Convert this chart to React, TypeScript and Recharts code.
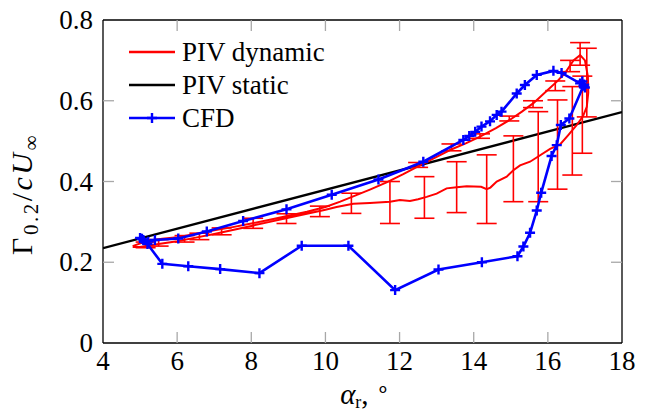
import React from "react";
import {
  ComposedChart,
  Line,
  Scatter,
  ErrorBar,
  XAxis,
  YAxis,
} from "recharts";

const fontStyle = { fontFamily: "Liberation Serif" };
const FS = 27;

// ---- tick labels ----
const xTicks = [4, 6, 8, 10, 12, 14, 16, 18];
const yTicks = [0, 0.2, 0.4, 0.6, 0.8];

// ---- series names ----
const seriesNames = ["PIV dynamic", "PIV static", "CFD"];

// ---- PIV static (linear) ----
const staticX = [4, 18];
const staticY = [0.235, 0.572];

// ---- PIV dynamic loop (upstroke then downstroke) ----
const dynX = [
  4.8, 5.2, 5.6, 6.0, 6.5, 7.0, 7.5, 8.0, 8.5, 9.0, 9.5, 10.0, 10.4, 10.75, 11.2,
  11.65, 12.1, 12.55, 13.0, 13.36, 13.8, 14.17, 14.6, 14.98, 15.3, 15.61, 16.01,
  16.25, 16.46, 16.69, 16.87, 17.0, 17.08,
  17.09, 17.05, 16.95, 16.78, 16.55, 16.33, 16.06, 15.74, 15.52, 15.25, 15.07,
  14.89, 14.62, 14.45, 14.35, 14.2, 13.81, 13.54, 13.27, 13.0, 12.73, 12.5, 12.28,
  12.01, 11.74, 11.2, 10.75, 10.3, 10.0, 9.5, 9.0, 8.5, 8.0, 7.5, 7.0, 6.5, 6.0,
  5.5, 5.0, 4.8,
];
const dynY = [
  0.24, 0.253, 0.258, 0.262, 0.27, 0.279, 0.287, 0.296, 0.305, 0.315, 0.325, 0.337,
  0.35, 0.363, 0.38, 0.398, 0.418, 0.44, 0.461, 0.478, 0.495, 0.511, 0.532, 0.553,
  0.573, 0.594, 0.628, 0.648, 0.668, 0.7, 0.713, 0.7, 0.66,
  0.62, 0.585, 0.562, 0.54, 0.515, 0.492, 0.481, 0.462, 0.449, 0.44, 0.428,
  0.412, 0.4, 0.385, 0.381, 0.387, 0.388, 0.386, 0.383, 0.37, 0.362, 0.356, 0.352,
  0.354, 0.35, 0.347, 0.345, 0.337, 0.33, 0.32, 0.31, 0.3, 0.29, 0.28, 0.27, 0.261,
  0.252, 0.245, 0.238, 0.238,
];

// ---- PIV dynamic error bars ----
const errX = [
  5.15, 5.5, 6.2, 6.6, 7.2, 8.05, 8.95, 9.85, 10.7, 11.74, 12.5, 12.67, 13.4, 13.54,
  14.17, 14.35, 14.96, 15.07, 15.6, 15.74, 16.2, 16.26, 16.6, 16.66, 16.87, 16.93,
  17.05,
];
const errLow = [
  0.236, 0.24, 0.25, 0.256, 0.268, 0.284, 0.296, 0.313, 0.321, 0.296, 0.435, 0.309,
  0.476, 0.323, 0.507, 0.296, 0.55, 0.35, 0.583, 0.35, 0.625, 0.381, 0.672, 0.416,
  0.688, 0.47, 0.56,
];
const errHigh = [
  0.25, 0.256, 0.266, 0.272, 0.285, 0.309, 0.32, 0.339, 0.371, 0.4, 0.447, 0.412,
  0.493, 0.449, 0.518, 0.466, 0.562, 0.513, 0.6, 0.573, 0.649, 0.602, 0.7, 0.635,
  0.744, 0.661, 0.73,
];

// ---- CFD loop ----
const cfdX = [
  5.0, 5.09, 5.22, 5.4, 6.03, 6.8, 7.78, 8.95, 10.17, 11.43, 12.64, 13.72, 13.88,
  14.04, 14.21, 14.44, 14.62, 14.75, 15.16, 15.38, 15.7, 16.15, 16.37, 16.87, 16.98,
  16.93, 17.0, 16.96,
  16.58, 16.35, 16.24, 16.1, 15.82, 15.7, 15.52, 15.34, 15.18, 14.22, 13.05, 11.88,
  10.62, 9.36, 8.22, 7.16, 6.3, 5.6, 5.2, 5.05,
];
const cfdY = [
  0.26, 0.255, 0.251, 0.255, 0.259, 0.276, 0.302, 0.331, 0.367, 0.405, 0.449, 0.503,
  0.513, 0.523, 0.536, 0.549, 0.565, 0.573, 0.618, 0.639, 0.664, 0.674, 0.669, 0.643,
  0.64, 0.648, 0.633, 0.637,
  0.556, 0.54, 0.49, 0.463, 0.372, 0.328, 0.273, 0.239, 0.215, 0.2, 0.182, 0.131,
  0.241, 0.241, 0.173, 0.183, 0.19, 0.196, 0.245, 0.258,
];

const staticData = staticX.map((x, i) => ({ x, y: staticY[i] }));
const dynData = dynX.map((x, i) => ({ x, y: dynY[i] }));
const errData = errX.map((x, i) => ({
  x,
  y: (errLow[i] + errHigh[i]) / 2,
  e: (errHigh[i] - errLow[i]) / 2,
}));
const cfdData = cfdX.map((x, i) => ({ x, y: cfdY[i] }));

const SHIFT = 8; // chart svg starts at the very top of the page
const W = 640;
const H = 406 + SHIFT;
const TICK_LEN = 11;
const TICK_COLOR = "#a8a8a8";

function BottomTick(props: any) {
  const { x, y, payload } = props;
  const v = payload.value;
  const edge = v === xTicks[0] || v === xTicks[xTicks.length - 1];
  return (
    <g>
      {!edge && (
        <line x1={x} x2={x} y1={y} y2={y - TICK_LEN} stroke={TICK_COLOR} strokeWidth={1.3} />
      )}
      <text x={x} y={y + 27} textAnchor="middle" style={fontStyle} fontSize={FS} fill="#000">
        {v}
      </text>
    </g>
  );
}

function TopTick(props: any) {
  const { x, y, payload } = props;
  const v = payload.value;
  const edge = v === xTicks[0] || v === xTicks[xTicks.length - 1];
  if (edge) return <g />;
  return <line x1={x} x2={x} y1={y} y2={y + TICK_LEN} stroke={TICK_COLOR} strokeWidth={1.3} />;
}

function LeftTick(props: any) {
  const { x, y, payload } = props;
  const v = payload.value;
  const edge = v === yTicks[0] || v === yTicks[yTicks.length - 1];
  return (
    <g>
      {!edge && (
        <line x1={x} x2={x + TICK_LEN} y1={y} y2={y} stroke={TICK_COLOR} strokeWidth={1.3} />
      )}
      <text
        x={x - 10}
        y={y}
        dy="0.34em"
        textAnchor="end"
        style={fontStyle}
        fontSize={FS}
        fill="#000"
      >
        {v === 0 ? "0" : v.toFixed(1)}
      </text>
    </g>
  );
}

function RightTick(props: any) {
  const { x, y, payload } = props;
  const v = payload.value;
  const edge = v === yTicks[0] || v === yTicks[yTicks.length - 1];
  if (edge) return <g />;
  return <line x1={x} x2={x - TICK_LEN} y1={y} y2={y} stroke={TICK_COLOR} strokeWidth={1.3} />;
}

function PlusDot(props: any) {
  const { cx, cy, index } = props;
  if (cx == null || cy == null) return <g key={index} />;
  return (
    <path
      key={index}
      d={`M${cx - 5},${cy}H${cx + 5}M${cx},${cy - 5}V${cy + 5}`}
      stroke="#0000ff"
      strokeWidth={2.4}
      fill="none"
    />
  );
}

const legendColors = ["#ff0000", "#000000", "#0000ff"];

export default function App() {
  const axisLine = { stroke: "#000", strokeWidth: 1.3 };
  return (
    <div style={{ position: "relative", width: W, height: H, marginTop: -SHIFT }}>
      <ComposedChart
        width={W}
        height={H}
        margin={{ top: 10 + SHIFT, right: 24, bottom: 31, left: 35 }}
      >
        <XAxis
          xAxisId="b"
          dataKey="x"
          type="number"
          domain={[4, 18]}
          ticks={xTicks}
          allowDataOverflow
          orientation="bottom"
          height={40}
          tickSize={0}
          tickMargin={0}
          tickLine={false}
          axisLine={axisLine}
          tick={<BottomTick />}
          interval={0}
        />
        <XAxis
          xAxisId="t"
          dataKey="x"
          type="number"
          domain={[4, 18]}
          ticks={xTicks}
          allowDataOverflow
          orientation="top"
          height={2}
          tickSize={0}
          tickMargin={0}
          tickLine={false}
          axisLine={axisLine}
          tick={<TopTick />}
          interval={0}
        />
        <YAxis
          yAxisId="l"
          type="number"
          domain={[0, 0.8]}
          ticks={yTicks}
          allowDataOverflow
          orientation="left"
          width={60}
          tickSize={0}
          tickMargin={0}
          tickLine={false}
          axisLine={axisLine}
          tick={<LeftTick />}
          interval={0}
        />
        <YAxis
          yAxisId="r"
          type="number"
          domain={[0, 0.8]}
          ticks={yTicks}
          allowDataOverflow
          orientation="right"
          width={2}
          tickSize={0}
          tickMargin={0}
          tickLine={false}
          axisLine={axisLine}
          tick={<RightTick />}
          interval={0}
        />
        <Line
          xAxisId="b"
          yAxisId="l"
          data={staticData}
          dataKey="y"
          type="linear"
          stroke="#000"
          strokeWidth={2.4}
          dot={false}
          activeDot={false}
          isAnimationActive={false}
        />
        <Line
          xAxisId="b"
          yAxisId="l"
          data={dynData}
          dataKey="y"
          type="linear"
          stroke="#ff0000"
          strokeWidth={2}
          dot={false}
          activeDot={false}
          isAnimationActive={false}
        />
        <Scatter
          xAxisId="b"
          yAxisId="l"
          data={errData}
          dataKey="y"
          shape={() => <g />}
          isAnimationActive={false}
        >
          <ErrorBar
            dataKey="e"
            direction="y"
            width={10}
            stroke="#ff0000"
            strokeWidth={1.6}
            isAnimationActive={false}
          />
        </Scatter>
        <Line
          xAxisId="b"
          yAxisId="l"
          data={cfdData}
          dataKey="y"
          type="linear"
          stroke="#0000ff"
          strokeWidth={2.6}
          dot={<PlusDot />}
          activeDot={false}
          isAnimationActive={false}
        />
      </ComposedChart>
      <svg
        width={W + 8}
        height={H}
        style={{ position: "absolute", left: -8, top: 0, pointerEvents: "none", overflow: "visible" }}
      >
        <g transform={`translate(8,${SHIFT})`}>
          {seriesNames.map((name, i) => {
            const cy = 44 + i * 33;
            return (
              <g key={name}>
                <line x1={121} x2={167} y1={cy} y2={cy} stroke={legendColors[i]} strokeWidth={2.4} />
                {i === 2 && (
                  <path
                    d={`M139,${cy}H149M144,${cy - 5}V${cy + 5}`}
                    stroke={legendColors[i]}
                    strokeWidth={2.4}
                  />
                )}
                <text x={174} y={cy + 9} style={fontStyle} fontSize={FS} fill="#000">
                  {name}
                </text>
              </g>
            );
          })}
          <text
            transform="translate(24,186) rotate(-90)"
            textAnchor="middle"
            style={fontStyle}
            fontSize={30}
            letterSpacing={2.5}
            fill="#000"
          >
            <tspan>Γ</tspan>
            <tspan fontSize={21} dy={6}>0.2</tspan>
            <tspan dy={-6}>/</tspan>
            <tspan fontStyle="italic">c</tspan>
            <tspan fontStyle="italic">U</tspan>
            <tspan fontSize={21} dy={6}>∞</tspan>
          </text>
          <text x={357} y={396} textAnchor="middle" style={fontStyle} fontSize={29} fill="#000">
            <tspan fontStyle="italic">α</tspan>
            <tspan fontSize={18} dy={4}>r</tspan>
            <tspan dy={-4}>, </tspan>
            <tspan fontSize={22} dy={-8}>∘</tspan>
          </text>
        </g>
      </svg>
    </div>
  );
}
